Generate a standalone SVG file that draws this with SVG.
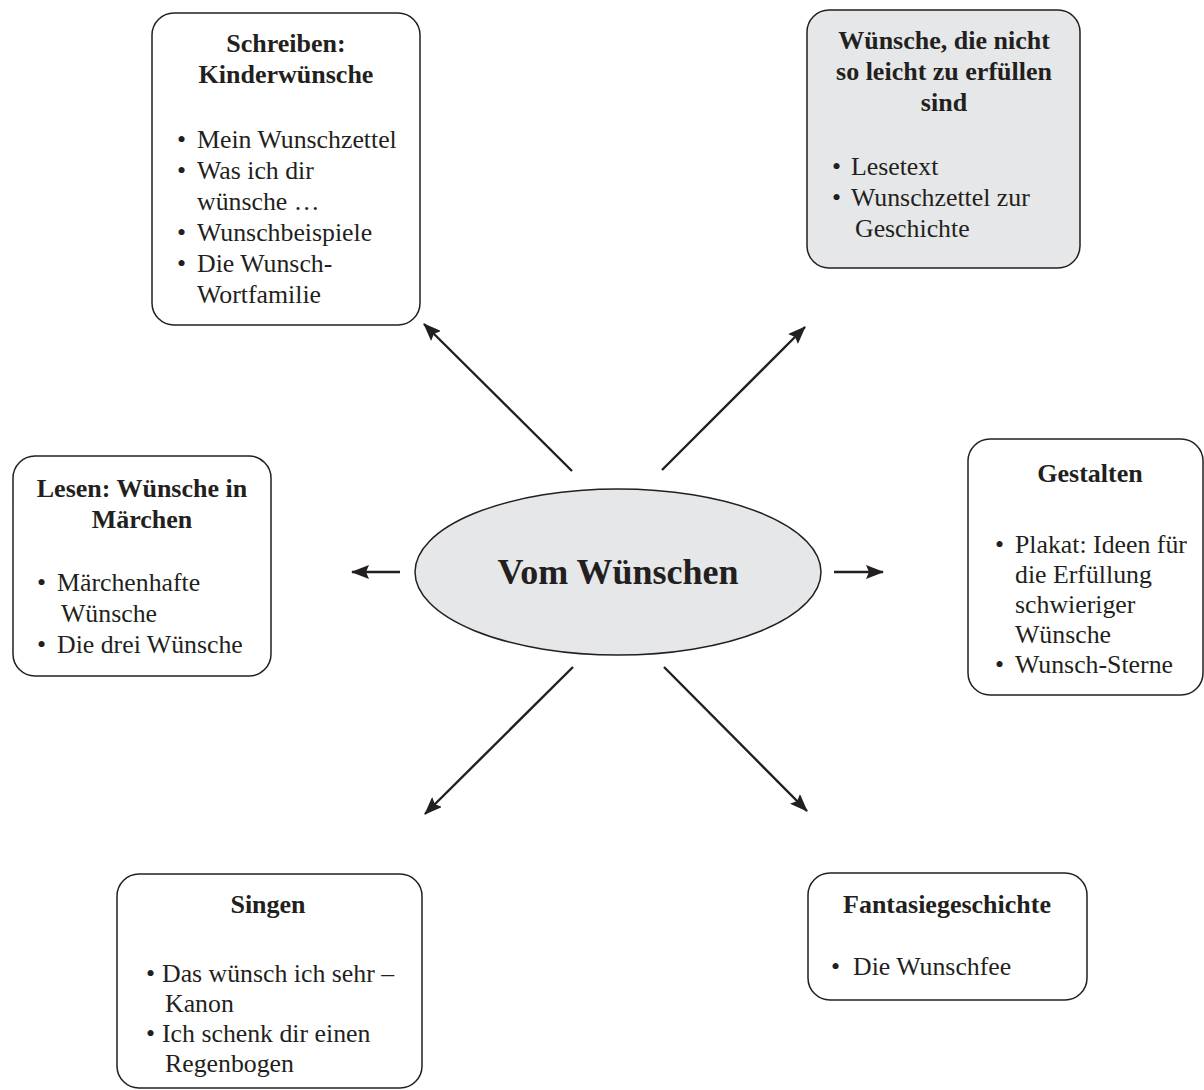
<svg xmlns="http://www.w3.org/2000/svg" width="1204" height="1090" viewBox="0 0 1204 1090">
<defs>
<marker id="ah" viewBox="0 0 18 14" refX="17" refY="7" markerWidth="18" markerHeight="14" markerUnits="userSpaceOnUse" orient="auto">
<path d="M0,0 L18,7 L0,14 L3,7 z" fill="#231f20"/>
</marker>
<style>
.box{fill:#ffffff;stroke:#231f20;stroke-width:1.5}
.gray{fill:#e6e7e8;stroke:#231f20;stroke-width:1.5}
.t{font-family:"Liberation Serif","Times New Roman",serif;font-size:25.8px;fill:#231f20}
.h{font-family:"Liberation Serif","Times New Roman",serif;font-size:26px;font-weight:bold;fill:#231f20;text-anchor:middle}
.c{stroke:#231f20;stroke-width:2.4;fill:none}
</style>
</defs>
<rect width="1204" height="1090" fill="#ffffff"/>

<g id="connectors">
<line class="c" x1="572" y1="471" x2="424" y2="324" marker-end="url(#ah)"/>
<line class="c" x1="662" y1="470" x2="805" y2="327" marker-end="url(#ah)"/>
<line class="c" x1="400" y1="572" x2="352" y2="572" marker-end="url(#ah)"/>
<line class="c" x1="834" y1="572" x2="883" y2="572" marker-end="url(#ah)"/>
<line class="c" x1="573" y1="667" x2="425" y2="814" marker-end="url(#ah)"/>
<line class="c" x1="664" y1="667" x2="807" y2="811" marker-end="url(#ah)"/>
</g>

<g id="center">
<ellipse class="gray" cx="618" cy="572" rx="203" ry="83"/>
<text x="618" y="584" font-family="'Liberation Serif','Times New Roman',serif" font-size="36" font-weight="bold" fill="#231f20" text-anchor="middle">Vom Wünschen</text>
</g>

<g id="schreiben">
<rect class="box" x="152" y="13" width="268" height="312" rx="22"/>
<text class="h" x="286" y="52">Schreiben:</text>
<text class="h" x="286" y="83">Kinderwünsche</text>
<text class="t" x="177" y="148">•</text><text class="t" x="197" y="148">Mein Wunschzettel</text>
<text class="t" x="177" y="179">•</text><text class="t" x="197" y="179">Was ich dir</text>
<text class="t" x="197" y="210">wünsche …</text>
<text class="t" x="177" y="241">•</text><text class="t" x="197" y="241">Wunschbeispiele</text>
<text class="t" x="177" y="272">•</text><text class="t" x="197" y="272">Die Wunsch-</text>
<text class="t" x="197" y="303">Wortfamilie</text>
</g>

<g id="schwierig">
<rect class="gray" x="807" y="10" width="273" height="258" rx="22"/>
<text class="h" x="944" y="49">Wünsche, die nicht</text>
<text class="h" x="944" y="80">so leicht zu erfüllen</text>
<text class="h" x="944" y="111">sind</text>
<text class="t" x="832" y="175">•</text><text class="t" x="851" y="175">Lesetext</text>
<text class="t" x="832" y="206">•</text><text class="t" x="851" y="206">Wunschzettel zur</text>
<text class="t" x="855" y="237">Geschichte</text>
</g>

<g id="lesen">
<rect class="box" x="13" y="456" width="258" height="220" rx="22"/>
<text class="h" x="142" y="497">Lesen: Wünsche in</text>
<text class="h" x="142" y="528">Märchen</text>
<text class="t" x="37" y="591">•</text><text class="t" x="57" y="591">Märchenhafte</text>
<text class="t" x="61" y="622">Wünsche</text>
<text class="t" x="37" y="653">•</text><text class="t" x="57" y="653">Die drei Wünsche</text>
</g>

<g id="gestalten">
<rect class="box" x="968" y="439" width="235" height="256" rx="22"/>
<text class="h" x="1090" y="482">Gestalten</text>
<text class="t" x="995" y="553">•</text><text class="t" x="1015" y="553">Plakat: Ideen für</text>
<text class="t" x="1015" y="583">die Erfüllung</text>
<text class="t" x="1015" y="613">schwieriger</text>
<text class="t" x="1015" y="643">Wünsche</text>
<text class="t" x="995" y="673">•</text><text class="t" x="1015" y="673">Wunsch-Sterne</text>
</g>

<g id="singen">
<rect class="box" x="117" y="874" width="305" height="214" rx="22"/>
<text class="h" x="268" y="913">Singen</text>
<text class="t" x="146" y="982">•</text><text class="t" x="162" y="982">Das wünsch ich sehr –</text>
<text class="t" x="165" y="1012">Kanon</text>
<text class="t" x="146" y="1042">•</text><text class="t" x="162" y="1042">Ich schenk dir einen</text>
<text class="t" x="165" y="1072">Regenbogen</text>
</g>

<g id="fantasie">
<rect class="box" x="808" y="873" width="279" height="127" rx="22"/>
<text class="h" x="947" y="913">Fantasiegeschichte</text>
<text class="t" x="831" y="975">•</text><text class="t" x="853" y="975">Die Wunschfee</text>
</g>
</svg>
